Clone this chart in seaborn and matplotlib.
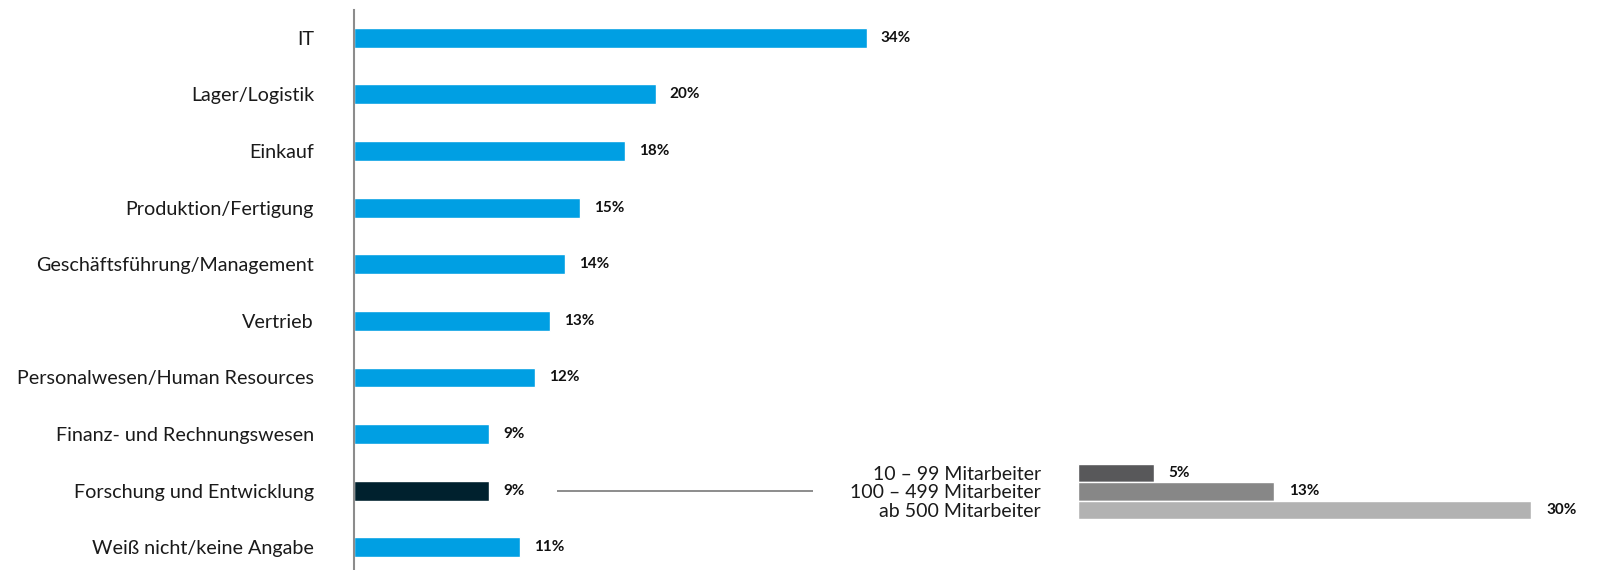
import matplotlib
matplotlib.use("Agg")
import matplotlib.pyplot as plt
import seaborn as sns
import pandas as pd

# Departments and share of mentions (%)
categories = [
    "IT",
    "Lager/Logistik",
    "Einkauf",
    "Produktion/Fertigung",
    "Geschäftsführung/Management",
    "Vertrieb",
    "Personalwesen/Human Resources",
    "Finanz- und Rechnungswesen",
    "Forschung und Entwicklung",
    "Weiß nicht/keine Angabe",
]
values = [34, 20, 18, 15, 14, 13, 12, 9, 9, 11]

# Breakdown of "Forschung und Entwicklung" by company size
size_labels = ["10 – 99 Mitarbeiter", "100 – 499 Mitarbeiter", "ab 500 Mitarbeiter"]
size_values = [5, 13, 30]

BLUE = "#009FE3"
DARK = "#00212E"
GRAYS = ["#58585A", "#878787", "#B2B2B2"]
highlight = "Forschung und Entwicklung"

sns.set_theme(style="white")
plt.rcParams["font.family"] = ["Lato", "DejaVu Sans"]

W, H = 1597, 570
fig = plt.figure(figsize=(W / 100, H / 100), dpi=100)

PX_PER_PCT = 15.1
PT = 72 / 100  # points per pixel at 100 dpi

# Main chart axes (pixel layout converted to figure fractions)
ax_left, ax_top, ax_bottom = 353.5, 10, 570
ax_w = W - ax_left
ax = fig.add_axes([ax_left / W, 1 - ax_bottom / H, ax_w / W, (ax_bottom - ax_top) / H])

df = pd.DataFrame({"cat": categories, "val": values})
palette = {c: (DARK if c == highlight else BLUE) for c in categories}
sns.barplot(data=df, x="val", y="cat", hue="cat", palette=palette, legend=False,
            orient="h", width=0.35, saturation=1, ax=ax)

ax.set_xlim(0, ax_w / PX_PER_PCT)
ax.set_ylim(9.4, -0.49)
ax.set_xlabel("")
ax.set_ylabel("")
ax.set_xticks([])
for s in ["top", "right", "bottom"]:
    ax.spines[s].set_visible(False)
ax.spines["left"].set_color("#8C8C8C")
ax.spines["left"].set_linewidth(1.5)
ax.tick_params(axis="y", length=0, pad=39.5 * PT, labelsize=14.2, labelcolor="#1a1a1a")

for i, v in enumerate(values):
    ax.text(v + 14 / PX_PER_PCT, i, f"{v}%", va="center", ha="left",
            fontsize=11, fontweight="bold", color="#111111")

# Connector from the highlighted bar to the breakdown
hi = categories.index(highlight)
ax.plot([values[hi] + 4.5, 30.45], [hi, hi], color="#8C8C8C", lw=1.4,
        solid_capstyle="butt")

# Breakdown axes
in_left, in_top, in_bottom = 1078, 463.5, 519
in_w = 500
ax2 = fig.add_axes([in_left / W, 1 - in_bottom / H, in_w / W, (in_bottom - in_top) / H])
df2 = pd.DataFrame({"size": size_labels, "val": size_values})
sns.barplot(data=df2, x="val", y="size", hue="size",
            palette=dict(zip(size_labels, GRAYS)), legend=False,
            orient="h", width=1.0, saturation=1, ax=ax2)
ax2.set_xlim(0, in_w / PX_PER_PCT)
ax2.set_ylim(2.5, -0.5)
ax2.set_xlabel("")
ax2.set_ylabel("")
ax2.set_xticks([])
for s in ["top", "right", "bottom", "left"]:
    ax2.spines[s].set_visible(False)
ax2.tick_params(axis="y", length=0, pad=37 * PT, labelsize=14, labelcolor="#1a1a1a")
for i, v in enumerate(size_values):
    ax2.text(v + 15 / PX_PER_PCT, i, f"{v}%", va="center", ha="left",
             fontsize=11, fontweight="bold", color="#111111", clip_on=False)

fig.savefig("out.png", dpi=100, facecolor="white")
